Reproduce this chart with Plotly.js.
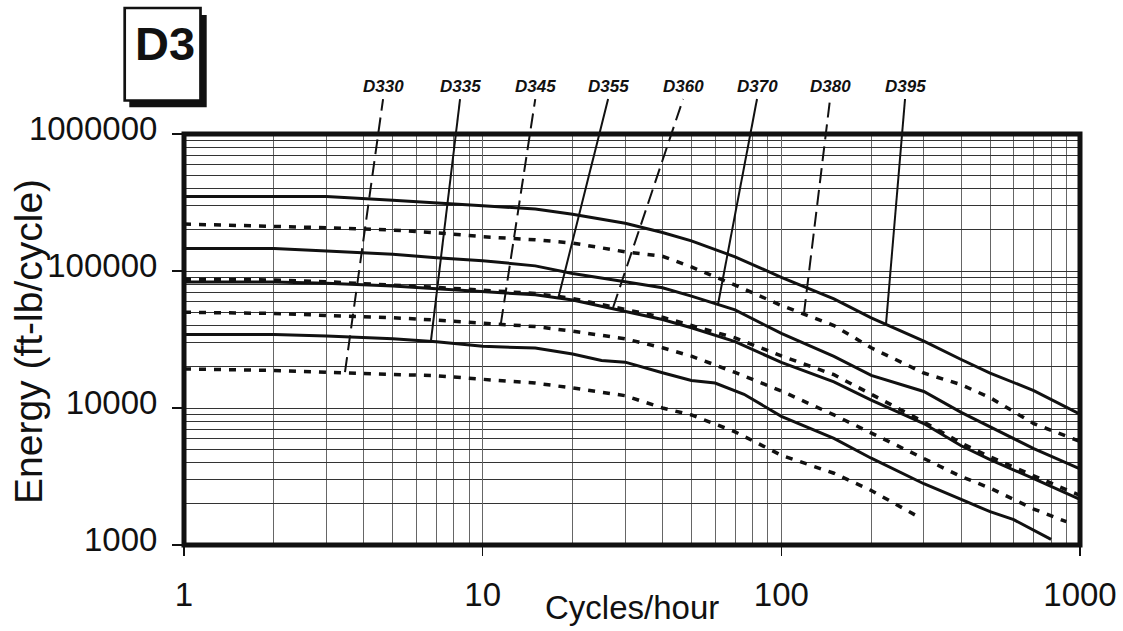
<!DOCTYPE html>
<html><head><meta charset="utf-8">
<script src="https://cdn.plot.ly/plotly-3.0.1.min.js"></script>
<style>html,body{margin:0;padding:0;background:#fff}</style>
</head><body><div id="chart" style="width:1123px;height:631px"></div>
<script>
// ---- data (cycles/hour vs energy ft-lb/cycle) ----
const cycles = [1,2,3,5,7,10,15,20,30,40,50,70,100,150,200,300,400,500,700,1000];
const D395 = [350000,350000,350000,328000,316000,300000,283000,260000,223000,191000,166000,127000,90000,62500,45500,30800,22600,18000,13400,9000];
const D380 = [220000,213000,207000,199000,190000,178000,169000,160000,138000,128000,107000,79000,56000,40000,27500,18000,14800,11900,7700,5700];
const D370 = [146000,146000,140000,132500,125000,119000,109000,96000,83500,75500,65600,52000,35000,23800,17300,13200,9300,7300,5050,3600];
const D360 = [87000,86000,83500,79500,76000,72500,68500,63000,52500,46000,40000,32500,24000,17500,12600,7900,5550,4400,3200,2300];
const D355 = [83000,83000,81300,77700,74300,71000,67000,61500,50500,44300,38500,30500,21500,15500,11400,7700,5300,4200,3050,2150];
const D345x = [1,2,3,5,7,10,15,20,30,40,50,70,100,150,200,300,400,500,700,900];
const D345 = [50000,49000,47400,45600,43800,41400,39300,36400,32000,27500,23900,18200,13300,8900,6600,4270,3160,2600,1830,1480];
const D335x = [1,2,3,5,7,10,15,20,25,30,40,50,60,75,100,150,200,300,400,500,600,800];
const D335 = [34400,34400,33500,32000,30400,28200,27400,24800,22200,21600,18100,15900,15200,12600,8700,6000,4300,2800,2150,1750,1530,1100];
const D330x = [1,2,3,5,7,10,15,20,30,40,50,70,100,150,200,280];
const D330 = [19300,18800,18200,17700,17200,16200,15200,14000,12300,10000,8900,6700,4520,3340,2500,1660];

const seriesNames = ['D330','D335','D345','D355','D360','D370','D380','D395'];
// leader lines: point on curve -> point under the label
const leaderCurveX = [3.46,6.71,11.5,17.9,27.3,61.4,119,224];
const leaderCurveY = [18300,30800,41000,63200,53700,57400,48500,40400];
const leaderTopX = [4.64,8.4,15.0,26.3,46.9,82.9,145.6,259.5];
const leaderTopY = [1800000,1800000,1800000,1800000,1800000,1800000,1800000,1800000];

const xTickVals = [1,10,100,1000];
const xTickText = ['1','10','100','1000'];
const yTickVals = [1000,10000,100000,1000000];
const yTickText = ['1000','10000','100000','1000000'];
const boxLabel = 'D3';
const xTitle = 'Cycles/hour';
const yTitle = 'Energy (ft-lb/cycle)';

// ---- layout geometry ----
const W = 1123, H = 631;
const M = {l:184, r:43, t:10, b:86};
const plotW = W - M.l - M.r;          // 896
const plotH = H - M.t - M.b;          // 535
const mainTop = 134;                  // pixel y of frame top
const mainFrac = (H - M.b - mainTop) / plotH;
const pxPerDec = (H - M.b - mainTop) / 3;
const px2x = x => (x - M.l) / plotW;
const px2y = y => (H - M.b - y) / plotH;

const FONT = 'Liberation Sans, Arial, Helvetica, sans-serif';
const INK = '#111';

const solidLine = {color: INK, width: 3};
const dotLine = {color: INK, width: 3.5, dash: '7px,8px'};

const curves = [
  {x: cycles, y: D395, line: solidLine},
  {x: cycles, y: D380, line: dotLine},
  {x: cycles, y: D370, line: solidLine},
  {x: cycles, y: D360, line: dotLine},
  {x: cycles, y: D355, line: solidLine},
  {x: D345x, y: D345, line: dotLine},
  {x: D335x, y: D335, line: solidLine},
  {x: D330x, y: D330, line: dotLine}
];
const traces = curves.map(c => ({type:'scatter', mode:'lines', x:c.x, y:c.y, line:c.line,
  hoverinfo:'skip', showlegend:false, xaxis:'x', yaxis:'y'}));

const dottedNames = ['D330','D345','D360','D380'];
seriesNames.forEach((n, i) => {
  const dashed = dottedNames.includes(n);
  traces.push({type:'scatter', mode:'lines', xaxis:'x2', yaxis:'y2',
    x:[leaderCurveX[i], leaderTopX[i]], y:[leaderCurveY[i], leaderTopY[i]],
    line:{color:INK, width:2, dash: dashed ? '15px,7px' : 'solid'},
    hoverinfo:'skip', showlegend:false});
});

function minorVals(lo, hi) {
  const v = [];
  for (let d = lo; d < hi; d++) for (let k = 2; k <= 9; k++) v.push(k * Math.pow(10, d));
  return v;
}

const annotations = seriesNames.map((n, i) => ({
  xref:'x2', yref:'y2', x:Math.log10(leaderTopX[i]), y:Math.log10(leaderTopY[i]),
  text:'<b><i>' + n + '</i></b>', showarrow:false, xanchor:'center', yanchor:'bottom',
  font:{family:FONT, size:17, color:INK}, yshift:1
}));
annotations.push({xref:'paper', yref:'paper', x:px2x(164.7), y:px2y(44), text:'<b>' + boxLabel + '</b>',
  showarrow:false, xanchor:'center', yanchor:'middle', font:{family:FONT, size:47, color:INK}});
annotations.push({xref:'paper', yref:'paper', x:0.5, y:px2y(607), text:xTitle, showarrow:false,
  xanchor:'center', yanchor:'middle', font:{family:FONT, size:33, color:INK}});
annotations.push({xref:'paper', yref:'paper', x:px2x(28), y:px2y(342), text:yTitle, showarrow:false,
  textangle:-90, xanchor:'center', yanchor:'middle', font:{family:FONT, size:39, color:INK}});

const layout = {
  width:W, height:H, margin:M, paper_bgcolor:'#fff', plot_bgcolor:'rgba(0,0,0,0)',
  showlegend:false,
  xaxis:{type:'log', range:[0,3], domain:[0,1], anchor:'y',
    tickmode:'array', tickvals:xTickVals, ticktext:xTickText,
    ticks:'outside', ticklen:10, tickwidth:1.2, tickcolor:INK,
    showline:false, zeroline:false, showgrid:true, gridcolor:'#666', gridwidth:1,
    tickfont:{family:FONT, size:33, color:INK}, ticklabelstandoff:10,
    minor:{tickmode:'array', tickvals:minorVals(0,3), showgrid:true, gridcolor:'#666', gridwidth:1, ticks:''}},
  yaxis:{type:'log', range:[3,6], domain:[0, mainFrac], anchor:'x',
    tickmode:'array', tickvals:yTickVals, ticktext:yTickText,
    ticks:'outside', ticklen:11, tickwidth:1.2, tickcolor:INK,
    showline:false, zeroline:false, showgrid:true, gridcolor:'#333', gridwidth:1,
    tickfont:{family:FONT, size:33, color:INK}, ticklabelshift:-6, ticklabelstandoff:8,
    minor:{tickmode:'array', tickvals:minorVals(3,6), showgrid:true, gridcolor:'#333', gridwidth:1, ticks:''}},
  xaxis2:{type:'log', range:[0,3], domain:[0,1], anchor:'y2', visible:false, showgrid:false},
  yaxis2:{type:'log', range:[3, 3 + plotH / pxPerDec], domain:[0,1], anchor:'x2', visible:false, showgrid:false},
  shapes:[
    {type:'rect', xref:'x domain', yref:'y domain', x0:0, x1:1, y0:0, y1:1,
      line:{color:INK, width:5}, layer:'above'},
    {type:'rect', xref:'paper', yref:'paper', x0:px2x(129.3), x1:px2x(206.7), y0:px2y(107.3), y1:px2y(15),
      fillcolor:INK, line:{width:0}},
    {type:'rect', xref:'paper', yref:'paper', x0:px2x(124.7), x1:px2x(200.5), y0:px2y(100.5), y1:px2y(8),
      fillcolor:'#fff', line:{color:INK, width:2.7}}
  ],
  annotations:annotations
};

Plotly.newPlot('chart', traces, layout, {staticPlot:true, displayModeBar:false});
</script>
</body></html>
